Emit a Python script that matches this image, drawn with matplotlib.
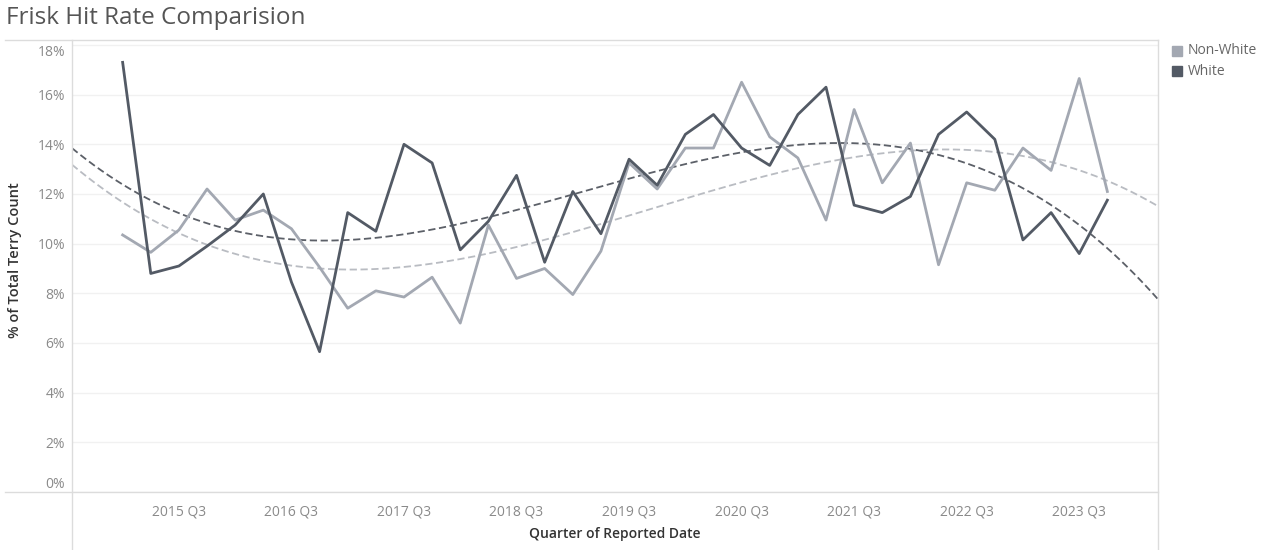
import numpy as np
import matplotlib.pyplot as plt
from matplotlib.lines import Line2D
from matplotlib.patches import Rectangle

plt.rcParams['font.family'] = ['Open Sans', 'DejaVu Sans']

# quarters 2015 Q1 .. 2023 Q4
years = np.repeat(np.arange(2015, 2024), 4)
qtrs = np.tile(np.arange(1, 5), 9)
quarter_labels = [f"{y} Q{q}" for y, q in zip(years, qtrs)]

white = [17.3, 8.8, 9.1, 9.9, 10.75, 12.0, 8.45, 5.65, 11.25, 10.5, 14.0, 13.25,
         9.75, 10.9, 12.75, 9.25, 12.1, 10.4, 13.4, 12.35, 14.4, 15.2, 13.85, 13.15,
         15.2, 16.3, 11.55, 11.25, 11.9, 14.4, 15.3, 14.2, 10.15, 11.25, 9.6, 11.75]
non_white = [10.35, 9.65, 10.55, 12.2, 10.95, 11.35, 10.6, 9.05, 7.4, 8.1, 7.85, 8.65,
             6.8, 10.75, 8.6, 9.0, 7.95, 9.7, 13.25, 12.2, 13.85, 13.85, 16.5, 14.3,
             13.45, 10.95, 15.4, 12.45, 14.05, 9.15, 12.45, 12.15, 13.85, 12.95, 16.65, 12.1]

series = {'Non-White': non_white, 'White': white}
colors = {'Non-White': '#a3a8b2', 'White': '#535a65'}
trend_colors = {'Non-White': '#b9bcc2', 'White': '#5c6068'}

fig = plt.figure(figsize=(12.7, 5.5), dpi=100)
ax = fig.add_axes([72 / 1270, 1 - 492 / 550, (1158 - 72) / 1270, (492 - 40) / 550])

x = np.arange(len(quarter_labels))
xmin, xmax = -1.8, len(x) - 1 + 1.8
xs = np.linspace(xmin, xmax, 300)

# cubic trend lines, drawn across the whole axis
for name, vals in series.items():
    coef = np.polyfit(x, vals, 3)
    ax.plot(xs, np.polyval(coef, xs), color=trend_colors[name], lw=1.3,
            dashes=(4, 2), zorder=2)
for name, vals in series.items():
    ax.plot(x, vals, color=colors[name], lw=2, zorder=3)

ax.set_xlim(xmin, xmax)
ax.set_ylim(0, 18.2)
yt = np.arange(0, 19, 2)
ax.set_yticks(yt)
ax.set_yticklabels([f"{v}%" for v in yt])
ax.set_xticks(x[2::4])
ax.set_xticklabels([quarter_labels[i] for i in x[2::4]])
ax.tick_params(length=0, labelsize=10, labelcolor='#8a8a8a')
ax.tick_params(axis='x', pad=9)
ax.tick_params(axis='y', pad=5)
ylabels = ax.get_yticklabels()
ylabels[0].set_va('bottom')
ylabels[-1].set_va('top')
ax.grid(axis='y', color='#f1f1f1', lw=1)
ax.set_axisbelow(True)
for s in ax.spines.values():
    s.set_visible(False)

ax.set_xlabel('Quarter of Reported Date', fontsize=10, color='#333333',
              fontweight='semibold')
ax.xaxis.set_label_coords(0.5, -35 / 452)
ax.set_ylabel('% of Total Terry Count', fontsize=10.5, color='#333333',
              fontweight='semibold')
ax.yaxis.set_label_coords(-50 / 1086, (492 - 260) / 452)

# frame lines around the view
line_c = '#dcdcdc'
def fline(xa, ya):
    fig.add_artist(Line2D([p / 1270 for p in xa], [1 - p / 550 for p in ya],
                          color=line_c, lw=1))
fline([5, 1158], [40, 40])
fline([5, 1158], [492, 492])
fline([72, 72], [40, 549])
fline([1158, 1158], [40, 549])

fig.text(6 / 1270, 1 - 18 / 550, 'Frisk Hit Rate Comparision', fontsize=17.5,
         color='#555555', va='center', ha='left')

# legend
for k, name in enumerate(series):
    yc = 51 + 20 * k
    fig.add_artist(Rectangle((1172 / 1270, 1 - (yc + 5) / 550), 10 / 1270, 10 / 550,
                             color=colors[name], transform=fig.transFigure))
    fig.text(1188 / 1270, 1 - yc / 550, name, fontsize=10, color='#666666',
             va='center', ha='left')

fig.savefig('out.png', dpi=100)
